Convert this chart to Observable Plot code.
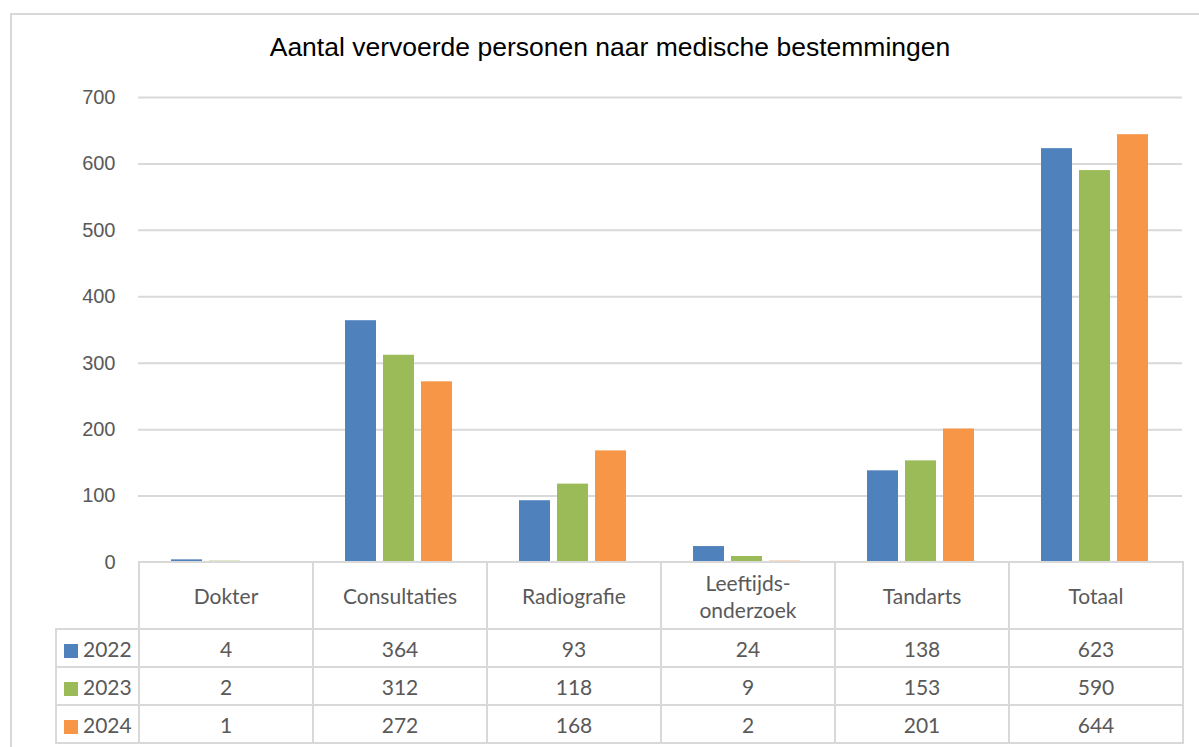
<!DOCTYPE html>
<html>
<head>
<meta charset="utf-8">
<script src="https://cdn.jsdelivr.net/npm/d3@7"></script>
<script src="https://cdn.jsdelivr.net/npm/@observablehq/plot@0.6"></script>
<style>
  html, body { margin: 0; padding: 0; background: #fff; }
  #wrap { position: relative; width: 1199px; height: 747px; overflow: hidden; background: #fff; }
  #frame { position: absolute; left: 10px; top: 13px; width: 1200px; height: 760px; border: 2px solid #d9d9d9; box-sizing: border-box; }
  #title { position: absolute; left: 0; width: 1220px; top: 32px; text-align: center; font-family: "Liberation Sans", Arial, sans-serif; font-size: 26.5px; color: #000; }
  #chart { position: absolute; left: 0; top: 0; }
  #tbl { position: absolute; left: 55px; top: 561px; border-collapse: collapse; font-family: Lato, "Open Sans", sans-serif; font-size: 21px; color: #595959; }
  #tbl td { border: 2px solid #d9d9d9; text-align: center; padding: 0; box-sizing: border-box; }
  #tbl tr.head td { height: 67px; width: 174px; white-space: pre-line; line-height: 27px; }
  #tbl tr.head td.blank { border: none; width: 83px; }
  #tbl tr.row td { height: 38px; }
  #tbl td.lab { text-align: left; padding-left: 7px; width: 83px; }
  .sw { display: inline-block; width: 14px; height: 14px; margin-right: 5px; vertical-align: -1px; }
</style>
</head>
<body>
<div id="wrap">
  <div id="frame"></div>
  <div id="title"></div>
  <div id="chart"></div>
  <table id="tbl"></table>
</div>
<script>
const titleText = "Aantal vervoerde personen naar medische bestemmingen";
const categories = ["Dokter", "Consultaties", "Radiografie", "Leeftijds-\nonderzoek", "Tandarts", "Totaal"];
const years = ["2022", "2023", "2024"];
const values2022 = [4, 364, 93, 24, 138, 623];
const values2023 = [2, 312, 118, 9, 153, 590];
const values2024 = [1, 272, 168, 2, 201, 644];
const yTicks = [0, 100, 200, 300, 400, 500, 600, 700];
const colors = ["#4f81bd", "#9bbb59", "#f79646"];

const series = [values2022, values2023, values2024];
const data = [];
categories.forEach((c, i) => years.forEach((y, j) => data.push({category: c, year: y, value: series[j][i]})));

document.getElementById("title").textContent = titleText;

const chart = Plot.plot({
  width: 1199,
  height: 747,
  marginLeft: 138,
  marginRight: 17,
  marginTop: 97,
  marginBottom: 185,
  style: {fontFamily: "'Liberation Sans', Arial, sans-serif", fontSize: "20px", color: "#595959", background: "transparent"},
  fx: {domain: categories, padding: 0, axis: null},
  x: {domain: years, paddingInner: 0.184, paddingOuter: 0.88, axis: null},
  y: {domain: [0, 700], ticks: yTicks, tickSize: 0, tickPadding: 23, label: null, tickFormat: d => String(d)},
  color: {domain: years, range: colors},
  facet: {data: data, x: "category"},
  marks: [
    Plot.ruleY(yTicks.slice(1), {stroke: "#d9d9d9", strokeWidth: 2}),
    Plot.barY(data, {x: "year", y: "value", fill: "year"})
  ]
});
document.getElementById("chart").appendChild(chart);

// data table below the chart
const tbl = document.getElementById("tbl");
const head = document.createElement("tr");
head.className = "head";
const blank = document.createElement("td");
blank.className = "blank";
head.appendChild(blank);
categories.forEach(c => { const td = document.createElement("td"); td.textContent = c; head.appendChild(td); });
tbl.appendChild(head);
years.forEach((y, j) => {
  const tr = document.createElement("tr");
  tr.className = "row";
  const lab = document.createElement("td");
  lab.className = "lab";
  const sw = document.createElement("span");
  sw.className = "sw";
  sw.style.background = colors[j];
  lab.appendChild(sw);
  lab.appendChild(document.createTextNode(y));
  tr.appendChild(lab);
  series[j].forEach(v => { const td = document.createElement("td"); td.textContent = v; tr.appendChild(td); });
  tbl.appendChild(tr);
});
</script>
</body>
</html>
